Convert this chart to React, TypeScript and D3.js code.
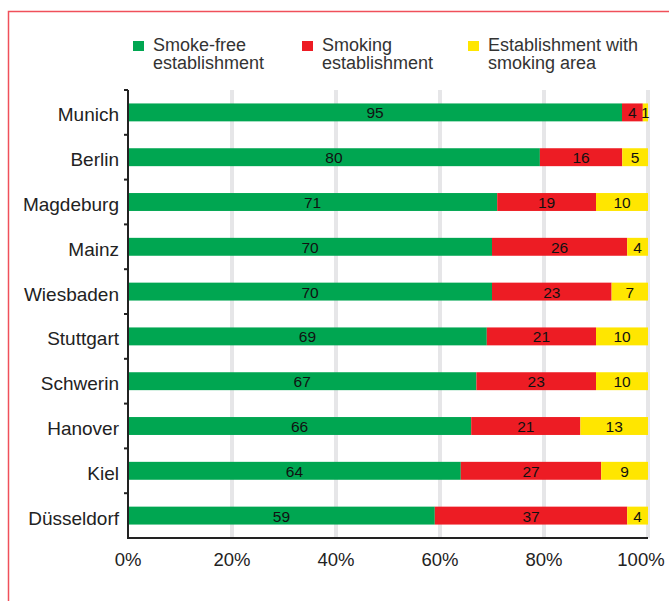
import { useEffect, useRef } from "react";
import * as d3 from "d3";

const cities = ["Munich", "Berlin", "Magdeburg", "Mainz", "Wiesbaden", "Stuttgart", "Schwerin", "Hanover", "Kiel", "Düsseldorf"];
const smokeFree = [95, 80, 71, 70, 70, 69, 67, 66, 64, 59];
const smoking = [4, 16, 19, 26, 23, 21, 23, 21, 27, 37];
const withArea = [1, 5, 10, 4, 7, 10, 10, 13, 9, 4];
const seriesNames = [["Smoke-free", "establishment"], ["Smoking", "establishment"], ["Establishment with", "smoking area"]];
const colors = ["#00a651", "#ed1c24", "#ffe600"];
const xTicks = [0, 20, 40, 60, 80, 100];

const FONT = "'Liberation Sans', Arial, Helvetica, sans-serif";

export default function App() {
  const ref = useRef<SVGSVGElement>(null);

  useEffect(() => {
    if (!ref.current) return;
    const width = 669;
    const height = 601;
    const margin = { top: 90, right: 21, bottom: 63, left: 128 };

    const svg = d3.select(ref.current);
    svg.selectAll("*").remove();

    // frame
    svg.append("path")
      .attr("d", `M8.5,${height} V11.5 H${width}`)
      .attr("fill", "none")
      .attr("stroke", "#f0505a")
      .attr("stroke-width", 1.5);

    const x = d3.scaleLinear().domain([0, 100]).range([margin.left, width - margin.right]);
    const y = d3.scaleBand().domain(cities).range([margin.top, height - margin.bottom]).paddingInner(0.6).paddingOuter(0.3);
    const band = d3.scaleBand().domain(cities).range([margin.top, height - margin.bottom]);

    // gridlines
    svg.append("g")
      .selectAll("line")
      .data(xTicks.slice(1))
      .enter()
      .append("line")
      .attr("x1", (d) => x(d))
      .attr("x2", (d) => x(d))
      .attr("y1", margin.top)
      .attr("y2", height - margin.bottom)
      .attr("stroke", "#e6e6e8")
      .attr("stroke-width", 4);

    const rows = cities.map((c, i) => {
      const vals = [smokeFree[i], smoking[i], withArea[i]];
      const total = d3.sum(vals);
      let acc = 0;
      return vals.map((v, k) => {
        const x0 = (acc / total) * 100;
        acc += v;
        const x1 = (acc / total) * 100;
        return { city: c, value: v, x0, x1, k };
      });
    });

    const seg = svg.append("g")
      .selectAll("g")
      .data(rows.flat())
      .enter()
      .append("g");

    seg.append("rect")
      .attr("x", (d) => x(d.x0))
      .attr("y", (d) => y(d.city)!)
      .attr("width", (d) => x(d.x1) - x(d.x0))
      .attr("height", y.bandwidth())
      .attr("fill", (d) => colors[d.k]);

    seg.append("text")
      .attr("x", (d) => (x(d.x0) + x(d.x1)) / 2)
      .attr("y", (d) => y(d.city)! + y.bandwidth() / 2 + 6)
      .attr("text-anchor", "middle")
      .attr("font-family", FONT)
      .attr("font-size", 15.5)
      .attr("fill", "#111")
      .text((d) => d.value);

    // y axis
    const yAxis = svg.append("g");
    yAxis.append("line")
      .attr("x1", margin.left).attr("x2", margin.left)
      .attr("y1", margin.top).attr("y2", height - margin.bottom)
      .attr("stroke", "#222").attr("stroke-width", 2);
    yAxis.selectAll("line.tick")
      .data(cities)
      .enter()
      .append("line")
      .attr("class", "tick")
      .attr("x1", margin.left - 4).attr("x2", margin.left)
      .attr("y1", (d) => band(d)!).attr("y2", (d) => band(d)!)
      .attr("stroke", "#222").attr("stroke-width", 2);
    yAxis.selectAll("text")
      .data(cities)
      .enter()
      .append("text")
      .attr("x", margin.left - 9)
      .attr("y", (d) => band(d)! + band.bandwidth() / 2 + 9)
      .attr("text-anchor", "end")
      .attr("font-family", FONT)
      .attr("font-size", 19)
      .attr("fill", "#222")
      .text((d) => d);

    // x axis
    const xAxis = svg.append("g");
    xAxis.append("line")
      .attr("x1", margin.left - 1).attr("x2", x(100))
      .attr("y1", height - margin.bottom).attr("y2", height - margin.bottom)
      .attr("stroke", "#222").attr("stroke-width", 2);
    xAxis.selectAll("text")
      .data(xTicks)
      .enter()
      .append("text")
      .attr("x", (d) => Math.min(x(d), width - 28))
      .attr("y", height - margin.bottom + 28)
      .attr("text-anchor", "middle")
      .attr("font-family", FONT)
      .attr("font-size", 18.5)
      .attr("fill", "#222")
      .text((d) => `${d}%`);

    // legend
    const legendX = [133, 302, 468];
    const legend = svg.append("g")
      .selectAll("g")
      .data(seriesNames)
      .enter()
      .append("g")
      .attr("transform", (_, i) => `translate(${legendX[i]},41)`);
    legend.append("rect")
      .attr("width", 11).attr("height", 10)
      .attr("fill", (_, i) => colors[i]);
    const lt = legend.append("text")
      .attr("x", 20)
      .attr("y", 10)
      .attr("font-family", FONT)
      .attr("font-size", 18)
      .attr("fill", "#333");
    lt.selectAll("tspan")
      .data((d) => d)
      .enter()
      .append("tspan")
      .attr("x", 20)
      .attr("dy", (_, j) => (j === 0 ? 0 : 18))
      .text((d) => d);
  }, []);

  return <svg ref={ref} width={669} height={601} style={{ position: "absolute", left: 0, top: 0 }} />;
}
